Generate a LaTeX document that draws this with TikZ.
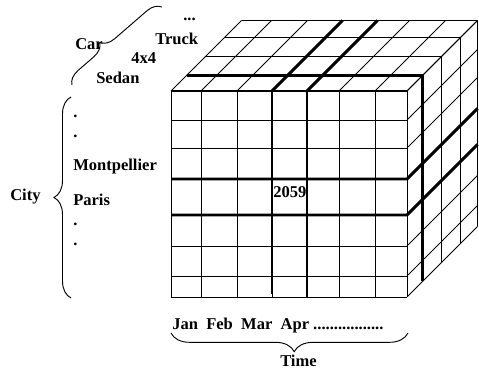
\documentclass[tikz,border=0pt]{standalone}
\usepackage{fontspec}
\setmainfont{Liberation Serif}
\usetikzlibrary{decorations.pathreplacing}
\begin{document}
\begin{tikzpicture}[x=0.75pt,y=-0.75pt,
  lbl/.style={anchor=base west,inner sep=0pt,font=\fontsize{12.4}{14}\selectfont\bfseries},
  thingrid/.style={line width=0.7pt},
  thickgrid/.style={line width=2.2pt},
  bracestyle/.style={decorate,line width=0.7pt}]
\useasboundingbox (0,0) rectangle (479,373);
% ---- cube: front face
\foreach \x in {171,201,237,272,307,339,375,407}
  \draw[thingrid] (\x,91) -- (\x,297);
\foreach \y in {91,120,148,179,215,246,276,297}
  \draw[thingrid] (171,\y) -- (407,\y);
% ---- top face
\foreach \d in {0,15.5,34.5,53.5,70.5}
  \draw[thingrid] (171+\d,91-\d) -- (407+\d,91-\d);
\foreach \x in {171,201,237,272,307,339,375,407}
  \draw[thingrid] (\x,91) -- (\x+70.5,20.5);
% ---- right face
\foreach \d in {0,15.5,34.5,53.5,70.5}
  \draw[thingrid] (407+\d,91-\d) -- (407+\d,297-\d);
\foreach \y in {91,120,148,179,215,246,276,297}
  \draw[thingrid] (407,\y) -- (477.5,\y-70.5);
% ---- thick slices
\draw[thickgrid] (171,91) -- (407,91);
\draw[thickgrid] (272,91) -- (272,294);
\draw[thickgrid] (307,91) -- (307,297);
\draw[thickgrid] (272,91) -- (342.5,20.5);
\draw[thickgrid] (307,91) -- (377.5,20.5);
\draw[thickgrid] (172,179) -- (407,179) -- (477.5,108.5);
\draw[thickgrid] (172,215) -- (407,215) -- (477.5,144.5);
\draw[thickgrid] (186.5,75.5) -- (422.5,75.5) -- (422.5,281.5);
% ---- labels
\node[lbl] (more) at (183,21) {...};
\node[lbl] (truck) at (155,45) {Truck};
\node[lbl] (car) at (75,50) {Car};
\node[lbl] (fourx) at (131,64) {4x4};
\node[lbl] (sedan) at (96,84) {Sedan};
\node[lbl] (d1) at (73,118) {.};
\node[lbl] (d2) at (73,138) {.};
\node[lbl] (mont) at (73,171) {Montpellier};
\node[lbl] (paris) at (73,206) {Paris};
\node[lbl] (d3) at (73,226) {.};
\node[lbl] (d4) at (73,246) {.};
\node[lbl] (city) at (10,201) {City};
\node[lbl] (val) at (273,198) {2059};
\node[lbl] (months) at (172,330) {Jan\ \ Feb\ \ Mar\ \ Apr .................};
\node[lbl] (time) at (280,367) {Time};
% ---- braces
\coordinate (carA) at (72,85);
\coordinate (carB) at (162,7);
\coordinate (cityA) at (71,298);
\coordinate (cityB) at (71,97);
\coordinate (timeA) at (408,333);
\coordinate (timeB) at (171,333);
\draw[bracestyle,decoration={brace,amplitude=10.5pt,aspect=0.41}] (carA) -- (carB);
\draw[bracestyle,decoration={brace,amplitude=12.75pt}] (cityA) -- (cityB);
\draw[bracestyle,decoration={brace,amplitude=14pt,aspect=0.48}] (timeA) -- (timeB);
\end{tikzpicture}
\end{document}
